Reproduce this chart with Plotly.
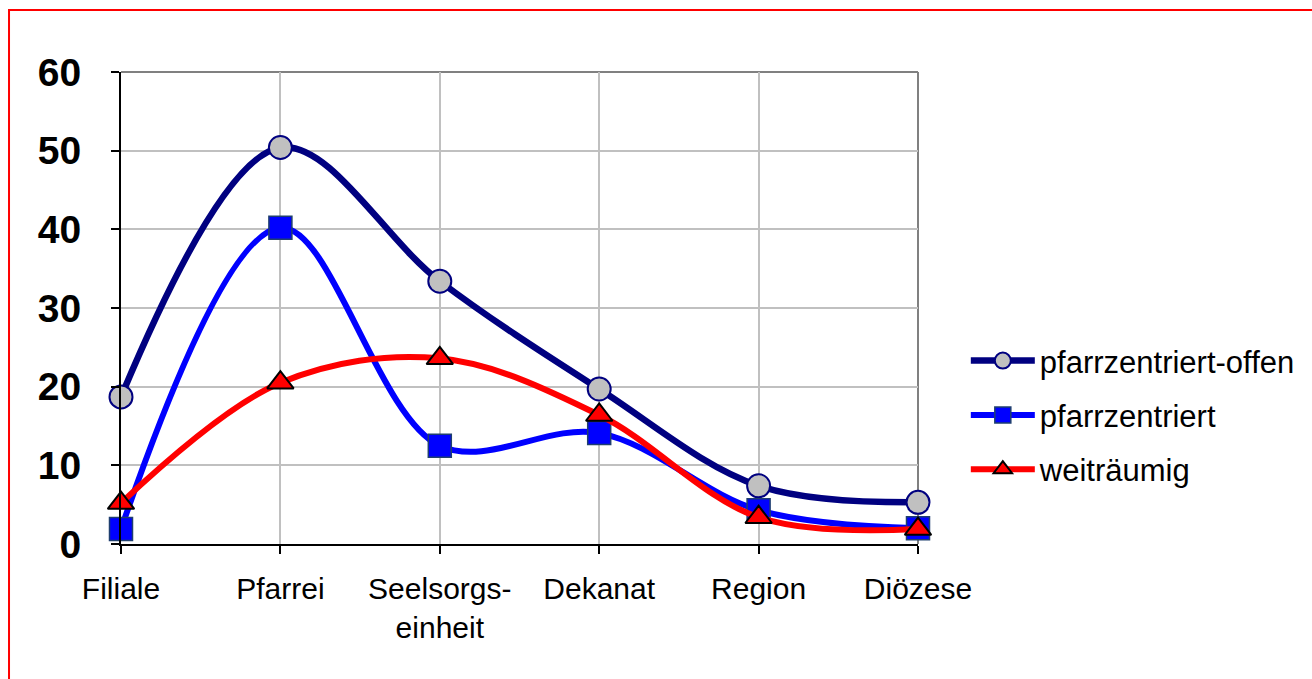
import plotly.graph_objects as go

# Categories along the x axis
categories = ["Filiale", "Pfarrei", "Seelsorgs-<br>einheit", "Dekanat", "Region", "Diözese"]

# Series values
offen = [18.7, 50.4, 33.4, 19.7, 7.4, 5.3]
zentriert = [1.9, 40.2, 12.5, 14.1, 4.3, 2.0]
weitraeumig = [5.2, 20.5, 23.6, 16.4, 3.4, 1.9]

# Y tick labels
y_ticks = [0, 10, 20, 30, 40, 50, 60]

FONT = "Liberation Sans, Arial, sans-serif"

fig = go.Figure()

fig.add_trace(go.Scatter(
    x=categories, y=offen, name="pfarrzentriert-offen",
    mode="lines+markers", line=dict(color="#000080", width=6.5, shape="spline", smoothing=1.0),
    marker=dict(symbol="circle", size=23, color="#c0c0c0", line=dict(color="#000080", width=2)),
    cliponaxis=False, legendgroup="a",
))
fig.add_trace(go.Scatter(
    x=categories, y=zentriert, name="pfarrzentriert",
    mode="lines+markers", line=dict(color="#0000ff", width=6, shape="spline", smoothing=1.0),
    marker=dict(symbol="square", size=23, color="#0000ff", line=dict(color="#1f3f6f", width=1.5)),
    cliponaxis=False, legendgroup="b",
))
fig.add_trace(go.Scatter(
    x=categories, y=weitraeumig, name="weiträumig",
    mode="lines+markers", line=dict(color="#ff0000", width=6, shape="spline", smoothing=1.0),
    marker=dict(symbol="triangle-up", size=23, color="#ff0000", line=dict(color="#000000", width=2)),
    cliponaxis=False, legendgroup="c",
))

# plot frame: gray top and right edges
fig.add_shape(type="line", xref="paper", yref="paper", x0=0, x1=1, y0=1, y1=1,
              line=dict(color="#808080", width=2), layer="below")
fig.add_shape(type="line", xref="paper", yref="paper", x0=1, x1=1, y0=0, y1=1,
              line=dict(color="#808080", width=2), layer="below")
# red outer border of the chart
fig.add_shape(type="rect", xref="paper", yref="paper", x0=-0.1405, x1=1.51, y0=-0.32, y1=1.1314,
              line=dict(color="#ff0000", width=2))

fig.update_layout(
    width=1312, height=679,
    margin=dict(l=121, r=394, t=72, b=135),
    paper_bgcolor="white", plot_bgcolor="white",
    font=dict(family=FONT, color="black"),
    showlegend=True,
    legend=dict(
        x=1.06, y=0.445, xanchor="left", yanchor="top",
        font=dict(size=31, family=FONT), itemwidth=64, tracegroupgap=11,
        bgcolor="rgba(0,0,0,0)",
    ),
    xaxis=dict(
        range=[0, 5], showgrid=True, gridcolor="#c0c0c0", gridwidth=2,
        showline=True, linecolor="black", linewidth=2,
        ticks="outside", ticklen=8, tickwidth=2, tickcolor="black",
        tickfont=dict(size=30, family=FONT), ticklabelstandoff=9,
        zeroline=False,
    ),
    yaxis=dict(
        range=[0, 60], tickvals=y_ticks, showgrid=True, gridcolor="#c0c0c0", gridwidth=2,
        showline=True, linecolor="black", linewidth=2,
        ticks="outside", ticklen=8, tickwidth=2, tickcolor="black",
        tickfont=dict(size=39, family=FONT, weight="bold"), ticklabelstandoff=22,
        zeroline=False,
    ),
)

fig.write_html("out.html")
